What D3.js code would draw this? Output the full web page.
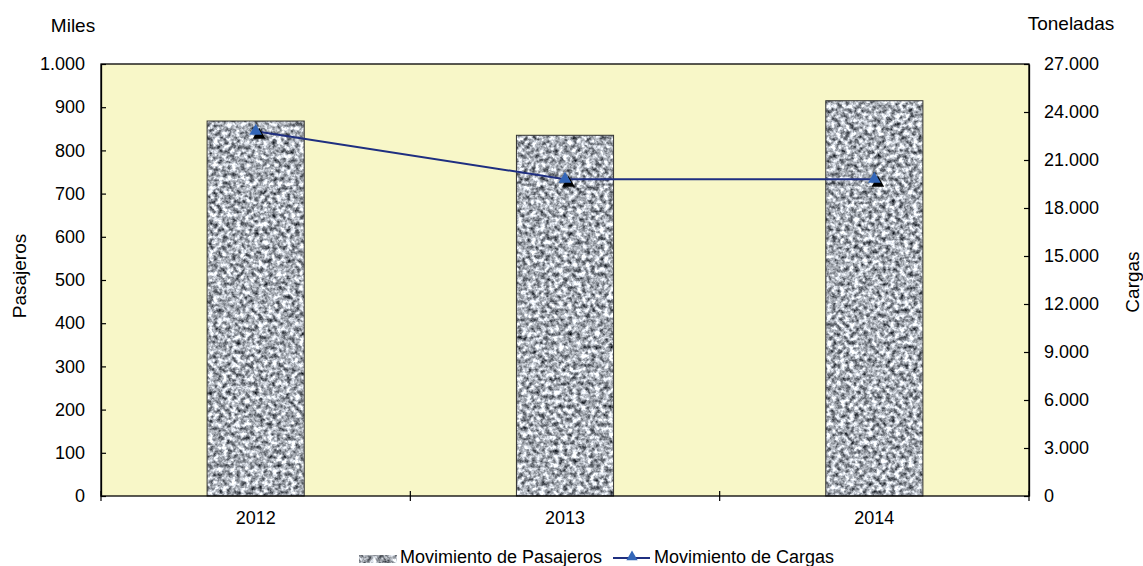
<!DOCTYPE html>
<html>
<head>
<meta charset="utf-8">
<script src="https://cdn.jsdelivr.net/npm/d3@7/dist/d3.min.js"></script>
<style>
  html, body { margin: 0; padding: 0; background: #ffffff; }
  svg { display: block; font-family: "Liberation Sans", Arial, sans-serif; }
</style>
</head>
<body>
<svg id="chart" width="1143" height="566"></svg>
<script>
// ---- data ----
const years = ["2012", "2013", "2014"];
const pasajeros = [868, 835, 915];          // miles
const cargas = [22800, 19800, 19800];        // toneladas
const leftTicks = [0, 100, 200, 300, 400, 500, 600, 700, 800, 900, 1000];
const rightTicks = [0, 3000, 6000, 9000, 12000, 15000, 18000, 21000, 24000, 27000];
const seriesNames = ["Movimiento de Pasajeros", "Movimiento de Cargas"];

const svg = d3.select("#chart");
const L = 101, R = 1029, T = 64, B = 496;

const locale = d3.formatLocale({decimal: ",", thousands: ".", grouping: [3], currency: ["", ""]});
const fmt = locale.format(",d");

// granite texture filter
const defs = svg.append("defs");
const f = defs.append("filter").attr("id", "granite")
  .attr("x", 0).attr("y", 0).attr("width", 1).attr("height", 1)
  .attr("color-interpolation-filters", "sRGB");
f.append("feTurbulence").attr("type", "fractalNoise").attr("baseFrequency", 0.22)
  .attr("numOctaves", 3).attr("seed", 7).attr("result", "noise");
f.append("feColorMatrix").attr("in", "noise").attr("type", "matrix")
  .attr("values", "1.6 0 0 0 -0.13  1.6 0 0 0 -0.11  1.6 0 0 0 -0.08  0 0 0 0 1")
  .attr("result", "gray");
f.append("feComposite").attr("in", "gray").attr("in2", "SourceGraphic").attr("operator", "in");

const x = d3.scaleBand().domain(years).range([L, R]).paddingInner(0.686).paddingOuter(0.343);
const yL = d3.scaleLinear().domain([0, 1000]).range([B, T]);
const yR = d3.scaleLinear().domain([0, 27000]).range([B, T]);

// plot background
svg.append("rect").attr("x", L).attr("y", T).attr("width", R - L).attr("height", B - T)
  .attr("fill", "#f8f7c8");

// bars
const bars = svg.append("g");
years.forEach((yr, i) => {
  bars.append("rect").attr("x", x(yr)).attr("y", yL(pasajeros[i]))
    .attr("width", x.bandwidth()).attr("height", B - yL(pasajeros[i]))
    .attr("fill", "#999").attr("filter", "url(#granite)");
  bars.append("rect").attr("x", x(yr)).attr("y", yL(pasajeros[i]))
    .attr("width", x.bandwidth()).attr("height", B - yL(pasajeros[i]))
    .attr("fill", "none").attr("stroke", "#333").attr("stroke-width", 1);
});

// plot border
svg.append("rect").attr("x", L).attr("y", T).attr("width", R - L).attr("height", B - T)
  .attr("fill", "none").attr("stroke", "#000").attr("stroke-width", 1.3);

// axes
const axL = d3.axisLeft(yL).tickValues(leftTicks).tickFormat(fmt).tickSizeInner(-5).tickSizeOuter(0).tickPadding(16);
const axR = d3.axisRight(yR).tickValues(rightTicks).tickFormat(fmt).tickSizeInner(-5).tickSizeOuter(0).tickPadding(15);
const gL = svg.append("g").attr("transform", `translate(${L},0)`).call(axL);
const gR = svg.append("g").attr("transform", `translate(${R},0)`).call(axR);
[gL, gR].forEach(g => {
  g.select(".domain").attr("stroke", "#000").attr("stroke-width", 1.3);
  g.selectAll(".tick line").attr("stroke", "#000").attr("stroke-width", 1.2);
  g.selectAll("text").attr("font-size", 18).attr("fill", "#000")
    .attr("font-family", "Liberation Sans, Arial, sans-serif");
});

const axB = d3.axisBottom(x).tickSize(0).tickPadding(15);
const gB = svg.append("g").attr("transform", `translate(0,${B})`).call(axB);
gB.select(".domain").remove();
gB.selectAll("text").attr("font-size", 18).attr("fill", "#000")
  .attr("font-family", "Liberation Sans, Arial, sans-serif");
// category boundary ticks
const bounds = years.map((d, i) => L + i * x.step());
bounds.push(R);
svg.append("g").selectAll("line").data(bounds).join("line")
  .attr("x1", d => d).attr("x2", d => d).attr("y1", B - 5).attr("y2", B + 5)
  .attr("stroke", "#000").attr("stroke-width", 1.2);

// line series
const cx = d => x(d) + x.bandwidth() / 2;
const pts = years.map((d, i) => [cx(d), yR(cargas[i])]);
svg.append("path").attr("d", d3.line()(pts)).attr("fill", "none")
  .attr("stroke", "#1f2f80").attr("stroke-width", 2);
const tri = d3.symbol().type(d3.symbolTriangle).size(70);
svg.append("g").selectAll("path").data(pts).join("path")
  .attr("d", tri).attr("transform", d => `translate(${d[0] + 3.5},${d[1] + 4})`).attr("fill", "#000");
svg.append("g").selectAll("path").data(pts).join("path")
  .attr("d", tri).attr("transform", d => `translate(${d[0]},${d[1]})`).attr("fill", "#3366b8");

// titles
const tstyle = s => s.attr("font-size", 19).attr("fill", "#000").attr("font-family", "Liberation Sans, Arial, sans-serif");
svg.append("text").attr("x", 73).attr("y", 32).attr("text-anchor", "middle").text("Miles").call(tstyle);
svg.append("text").attr("x", 1071).attr("y", 30).attr("text-anchor", "middle").text("Toneladas").call(tstyle);
svg.append("text").attr("transform", "translate(26,276) rotate(-90)").attr("text-anchor", "middle").text("Pasajeros").call(tstyle);
svg.append("text").attr("transform", "translate(1139,282) rotate(-90)").attr("text-anchor", "middle").text("Cargas").call(tstyle);

// legend
const lg = svg.append("g");
lg.append("rect").attr("x", 359).attr("y", 555).attr("width", 38).attr("height", 8)
  .attr("fill", "#999").attr("filter", "url(#granite)");
lg.append("text").attr("x", 400).attr("y", 563).text(seriesNames[0])
  .attr("font-size", 18).attr("fill", "#000").attr("font-family", "Liberation Sans, Arial, sans-serif");
lg.append("line").attr("x1", 613).attr("x2", 650).attr("y1", 558).attr("y2", 558)
  .attr("stroke", "#1f2f80").attr("stroke-width", 2);
lg.append("path").attr("d", d3.symbol().type(d3.symbolTriangle).size(55))
  .attr("transform", "translate(632,557)").attr("fill", "#3366b8");
lg.append("text").attr("x", 654).attr("y", 563).text(seriesNames[1])
  .attr("font-size", 18).attr("fill", "#000").attr("font-family", "Liberation Sans, Arial, sans-serif");
</script>
</body>
</html>
